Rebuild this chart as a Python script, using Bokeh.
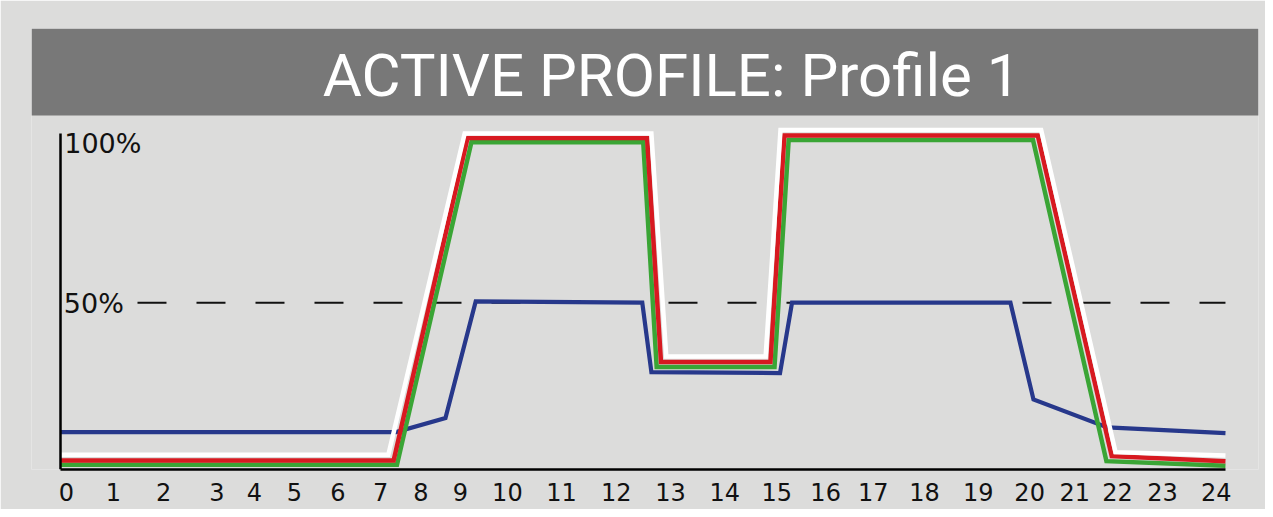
from bokeh.plotting import figure
from bokeh.models import Range1d, FixedTicker, Label, BoxAnnotation
from bokeh.embed import file_html
from bokeh.resources import INLINE

# ---- data (x in hour-position units, y in percent) ----
white_x = [0, 6.83, 8.42, 12.31, 12.62, 14.69, 15.00, 20.43, 21.98, 24.27]
white_y = [4.4, 4.4, 100.7, 100.7, 33.9, 33.9, 101.8, 101.8, 5.2, 4.2]

red_x = [0, 6.94, 8.48, 12.22, 12.51, 14.79, 15.08, 20.36, 21.90, 24.27]
red_y = [2.7, 2.7, 99.4, 99.4, 32.2, 32.2, 100.1, 100.1, 4.0, 2.5]

green_x = [0, 7.01, 8.56, 12.14, 12.42, 14.875, 15.17, 20.26, 21.79, 24.27]
green_y = [1.4, 1.4, 98.1, 98.1, 30.7, 30.7, 98.8, 98.8, 2.5, 1.1]

blue_x = [0, 6.99, 8.02, 8.65, 12.12, 12.31, 14.99, 15.24, 19.79, 20.27, 21.81, 24.27]
blue_y = [11.2, 11.2, 15.4, 50.4, 50.0, 29.2, 28.9, 50.0, 50.0, 21.0, 12.6, 10.9]

ref_x = [1.604, 24.27]
ref_y = [50, 50]

tick_pos = [0.125, 1.10, 2.15, 3.26, 4.04, 4.875, 5.78, 6.67, 7.51, 8.33, 9.31,
            10.44, 11.58, 12.71, 13.84, 14.92, 15.94, 16.93, 18.0, 19.12, 20.19,
            21.13, 22.02, 22.96, 24.08]
tick_labels = ["0", "1", "2", "3", "4", "5", "6", "7", "8", "9", "10", "11", "12",
               "13", "14", "15", "16", "17", "18", "19", "20", "21", "22", "23", "24"]

title_text = "ACTIVE PROFILE: Profile 1"

BG = "#dcdcdb"
BAR = "#787878"
RED = "#d71920"
GREEN = "#3aa535"
BLUE = "#27388b"
WHITE = "#ffffff"

p = figure(width=1265, height=509, output_backend="svg", toolbar_location=None,
           x_range=Range1d(-0.6042, 24.958), y_range=Range1d(0, 132.19),
           min_border_left=31, min_border_right=7, min_border_top=28,
           min_border_bottom=40)
p.background_fill_color = BG
p.border_fill_color = BG
p.outline_line_color = None
p.grid.visible = False

# x axis
xa = p.xaxis[0]
xa.ticker = FixedTicker(ticks=tick_pos, minor_ticks=[])
xa.major_label_overrides = dict(zip(tick_pos, tick_labels))
xa.bounds = (0, 24.27)
xa.axis_line_color = "black"
xa.axis_line_width = 2.5
xa.major_tick_line_color = None
xa.minor_tick_line_color = None
xa.major_tick_out = 0
xa.major_tick_in = 0
xa.major_label_standoff = 13
xa.major_label_text_font = "DejaVu Sans"
xa.major_label_text_font_size = "24px"
xa.major_label_text_color = "#111111"

# y axis
ya = p.yaxis[0]
ya.fixed_location = 0
ya.ticker = FixedTicker(ticks=[], minor_ticks=[])
ya.bounds = (0, 100.7)
ya.axis_line_color = "black"
ya.axis_line_width = 2.5
ya.major_tick_line_color = None
ya.minor_tick_line_color = None
ya.major_tick_out = 0
ya.major_tick_in = 0
ya.major_label_text_font_size = "0px"

# title bar
p.add_layout(BoxAnnotation(left=-0.6042, right=24.958, bottom=106.1, top=132.19,
                           fill_color=BAR, fill_alpha=1.0, line_color=None))
p.add_layout(Label(x=12.73, y=118.0, text=title_text, text_align="center",
                   text_baseline="alphabetic", text_color="white",
                   text_font="Roboto", text_font_size="60px"))

# reference line
p.line(ref_x, ref_y, line_color="#111111", line_width=2, line_dash="29 30")

# series
p.line(blue_x, blue_y, line_color=BLUE, line_width=4.2, line_join="miter")
p.line(green_x, green_y, line_color=GREEN, line_width=4.5, line_join="miter")
p.line(red_x, red_y, line_color=RED, line_width=4.5, line_join="miter")
p.line(white_x, white_y, line_color=WHITE, line_width=4.5, line_join="miter")

# y labels
p.add_layout(Label(x=0.077, y=97.7, text="100%", text_align="left",
                   text_baseline="alphabetic", text_color="#111111",
                   text_font="DejaVu Sans", text_font_size="27px"))
p.add_layout(Label(x=0.069, y=49.9, text="50%", text_align="left",
                   text_baseline="alphabetic", text_color="#111111",
                   text_font="DejaVu Sans", text_font_size="27px"))

open("out.html", "w").write(file_html(p, INLINE))
